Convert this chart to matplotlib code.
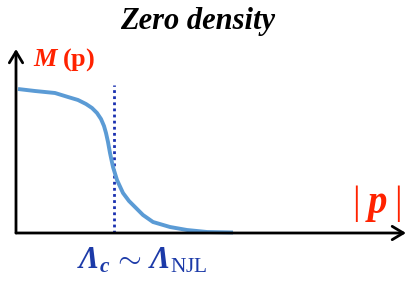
import matplotlib
matplotlib.use("Agg")
import matplotlib.pyplot as plt
from matplotlib.patches import FancyArrowPatch

plt.rcParams['mathtext.fontset'] = 'custom'
plt.rcParams['mathtext.rm'] = 'Liberation Serif'
plt.rcParams['mathtext.it'] = 'Liberation Serif:italic'
plt.rcParams['mathtext.bf'] = 'Liberation Serif:bold'
plt.rcParams['mathtext.bfit'] = 'Liberation Serif:bold:italic'

# data (momentum |p| vs mass M(p)), arbitrary units
p_vals = [2, 19, 39, 52, 62, 70, 76, 81, 85, 88, 90, 92, 94, 97, 101, 107, 113, 119, 127, 137, 154, 171, 191, 217]
m_vals = [144, 142, 140, 136, 133, 129, 125, 120, 114, 107, 100, 91, 80, 66, 53, 40, 32, 26, 18, 11, 6, 3, 1, 0.5]
cutoff = 98
cutoff_top = 148

title = "Zero density"

fig = plt.figure(figsize=(4.17, 2.83), dpi=100)
ax = fig.add_axes([0, 0, 1, 1])
ax.set_xlim(-16, 401)
ax.set_ylim(-50, 233)
ax.axis('off')

# curve
ax.plot(p_vals, m_vals, color='#5b9bd5', lw=2.8, solid_capstyle='butt', solid_joinstyle='round', zorder=3)
# cutoff line
ax.plot([cutoff, cutoff], [0, cutoff_top], color='#1a30b0', lw=2, ls=(0, (1, 1.2)), zorder=2)

# axes arrows
ax.add_patch(FancyArrowPatch((0, 0), (0, 184), arrowstyle='->,head_length=5,head_width=3',
                             color='black', lw=2, mutation_scale=1.6, shrinkA=0, shrinkB=0, zorder=4))
ax.add_patch(FancyArrowPatch((0, 0), (390, 0), arrowstyle='->,head_length=5,head_width=3',
                             color='black', lw=2, mutation_scale=1.6, shrinkA=0, shrinkB=0, zorder=4))

red = '#ff2200'
blue = '#1c3aa8'
ax.text(182, 211, title, ha='center', va='center', fontsize=22,
        family='Liberation Serif', weight='bold', style='italic')
ax.text(17, 173, r'$\mathbfit{M}\;\mathbf{(p)}$', ha='left', va='center', fontsize=19, color=red)
ax.text(361, 30, r'$\mathrm{|}\;\mathbfit{p}\;\mathrm{|}$', ha='center', va='center', fontsize=28, color=red)
ax.text(126, -27, r'$\mathbfit{\Lambda_c}\,\sim\,\mathbfit{\Lambda}_{\mathrm{NJL}}$', ha='center', va='center',
        fontsize=22, color=blue)

fig.savefig('out.png', dpi=100)
